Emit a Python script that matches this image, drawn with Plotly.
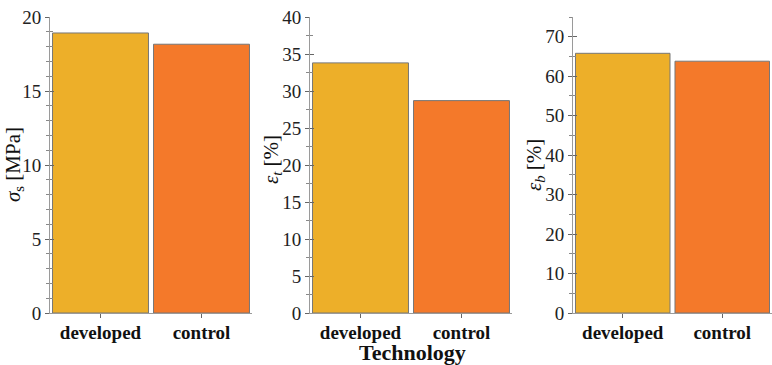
import plotly.graph_objects as go

categories = ['developed', 'control']
sigma_s = [18.92, 18.16]
eps_t = [33.8, 28.7]
eps_b = [65.8, 63.8]

bar_colors = ['#EDAF29', '#F4792A']
serif = 'Liberation Serif, Times New Roman, serif'
axis_grey = '#9a9a9a'

W, H = 772, 365
TOP, BOT = 17, 313
x_domains = [[50 / W, 252 / W], [310 / W, 512 / W], [573 / W, 1.0]]
y_ranges = [[0, 20], [0, 40], [0, 75]]
y_dticks = [5, 5, 10]
y_minor = [1, 2.5, 5]
series = [sigma_s, eps_t, eps_b]

fig = go.Figure()
for i, vals in enumerate(series):
    n = '' if i == 0 else str(i + 1)
    fig.add_trace(go.Bar(x=categories, y=vals, xaxis='x' + n, yaxis='y' + n,
                         marker=dict(color=bar_colors, line=dict(color='#777777', width=1)),
                         width=0.95, showlegend=False, hoverinfo='skip'))
    # empty trace so the overlay axis (crossing ticks) gets drawn
    fig.add_trace(go.Scatter(x=[], y=[], xaxis='x' + n, yaxis='y' + str(i + 4),
                             showlegend=False))

layout = dict(width=W, height=H, margin=dict(l=0, r=0, t=TOP, b=H - BOT),
              paper_bgcolor='white', plot_bgcolor='rgba(0,0,0,0)',
              font=dict(family=serif, color='#222222'))

for i in range(3):
    n = '' if i == 0 else str(i + 1)
    layout['xaxis' + n] = dict(domain=x_domains[i], anchor='y' + n, range=[-0.5, 1.5],
                               showline=True, linecolor=axis_grey, linewidth=1,
                               ticks='outside', ticklen=4, tickcolor='#666666',
                               ticklabelstandoff=-2,
                               tickfont=dict(family=serif, size=19, color='#111111'),
                               tickvals=categories,
                               ticktext=['<b>' + c + '</b>' for c in categories],
                               showgrid=False, zeroline=False)
    layout['yaxis' + n] = dict(domain=[0, 1], anchor='x' + n, range=y_ranges[i],
                               dtick=y_dticks[i], showline=True, linecolor=axis_grey,
                               linewidth=1, ticks='outside', ticklen=4, tickcolor='#666666',
                               minor=dict(dtick=y_minor[i], ticks='outside', ticklen=3,
                                          tickcolor='#888888'),
                               tickfont=dict(family=serif, size=19, color='#222222'),
                               showgrid=False, zeroline=False)
    # overlay axis to make the ticks cross the axis line
    layout['yaxis' + str(i + 4)] = dict(overlaying='y' + n, anchor='x' + n, side='left',
                                        range=y_ranges[i], dtick=y_dticks[i],
                                        showline=False, ticks='inside', ticklen=4,
                                        tickcolor='#666666', showticklabels=False,
                                        minor=dict(dtick=y_minor[i], ticks='inside',
                                                   ticklen=3, tickcolor='#888888'),
                                        showgrid=False, zeroline=False)

fig.update_layout(**layout)


def px(x):
    return x / W


def py(y):
    return (BOT - y) / (BOT - TOP)


titles = ['<i>σ</i><sub>s</sub> [MPa]', '<i>ε</i><sub><i>t</i></sub> [%]',
          '<i>ε</i><sub><i>b</i></sub> [%]']
title_x = [14, 272, 535]
title_y = [165, 160, 165]
for t, tx, ty in zip(titles, title_x, title_y):
    fig.add_annotation(text=t, x=px(tx), y=py(ty), xref='paper', yref='paper',
                       showarrow=False, textangle=-90,
                       font=dict(family=serif, size=21, color='#111111'),
                       xanchor='center', yanchor='middle')

fig.add_annotation(text='<b>Technology</b>', x=px(412), y=py(352), xref='paper',
                   yref='paper', showarrow=False,
                   font=dict(family=serif, size=22, color='#111111'),
                   xanchor='center', yanchor='middle')

fig.write_html('out.html', config={'displayModeBar': False},
               post_script="document.body.style.margin='0';")
